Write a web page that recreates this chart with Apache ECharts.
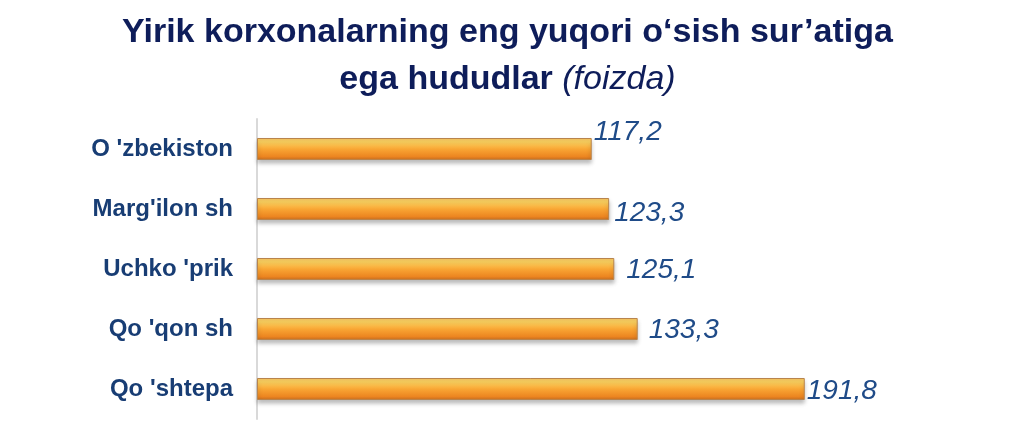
<!DOCTYPE html>
<html><head><meta charset="utf-8">
<script src="https://cdn.jsdelivr.net/npm/echarts@6/dist/echarts.min.js"></script>
<style>html,body{margin:0;padding:0;background:#fff}#c{width:1015px;height:430px}</style>
</head><body><div id="c"></div>
<script>
var categories = ["O 'zbekiston", "Marg'ilon sh", "Uchko 'prik", "Qo 'qon sh", "Qo 'shtepa"];
var values = [117.2, 123.3, 125.1, 133.3, 191.8];
var valueLabels = ["117,2", "123,3", "125,1", "133,3", "191,8"];

var labelOffsets = [[0, -17], [3, 4], [10, 1], [9, 1], [0, 2]];

var chart = echarts.init(document.getElementById('c'), null, {renderer: 'canvas'});
var font = 'Liberation Sans, Arial, sans-serif';
chart.setOption({
  backgroundColor: '#fff',
  animation: false,
  title: {
    left: 'center', top: 4,
    text: '{b|Yirik korxonalarning eng yuqori o\u2018sish sur\u2019atiga}\n{b|ega hududlar }{i|(foizda)}',
    textStyle: {
      rich: {
        b: {fontFamily: font, fontWeight: 'bold', fontSize: 34, color: '#0e1d5a', lineHeight: 47},
        i: {fontFamily: font, fontWeight: 'normal', fontStyle: 'italic', fontSize: 34, color: '#0e1d5a', lineHeight: 47}
      }
    }
  },
  grid: {left: 257, top: 119, width: 714, height: 300, containLabel: false},
  xAxis: {
    type: 'value', min: 0, max: 250, show: false
  },
  yAxis: {
    type: 'category', data: categories, inverse: true,
    axisLine: {show: true, lineStyle: {color: '#d9d9d9', width: 2}},
    axisTick: {show: false},
    splitLine: {show: false},
    axisLabel: {fontFamily: font, fontWeight: 'bold', fontSize: 24, color: '#183d74', margin: 24}
  },
  series: [{
    type: 'bar', barWidth: 22,
    data: values.map(function (v, i) {
      return {value: v, label: {offset: labelOffsets[i]}};
    }),
    itemStyle: {
      color: new echarts.graphic.LinearGradient(0, 0, 0, 1, [
        {offset: 0, color: '#f6c260'},
        {offset: 0.18, color: '#fdd25f'},
        {offset: 0.5, color: '#f9a634'},
        {offset: 0.85, color: '#ec8520'},
        {offset: 1, color: '#c46d22'}
      ]),
      borderColor: '#b9844c', borderWidth: 1,
      shadowColor: 'rgba(0,0,0,0.25)', shadowBlur: 4, shadowOffsetY: 3
    },
    label: {
      show: true, position: 'right', distance: 2,
      formatter: function (p) { return valueLabels[p.dataIndex]; },
      fontFamily: font, fontStyle: 'italic', fontSize: 28, color: '#1f4b88'
    }
  }]
});
</script></body></html>
